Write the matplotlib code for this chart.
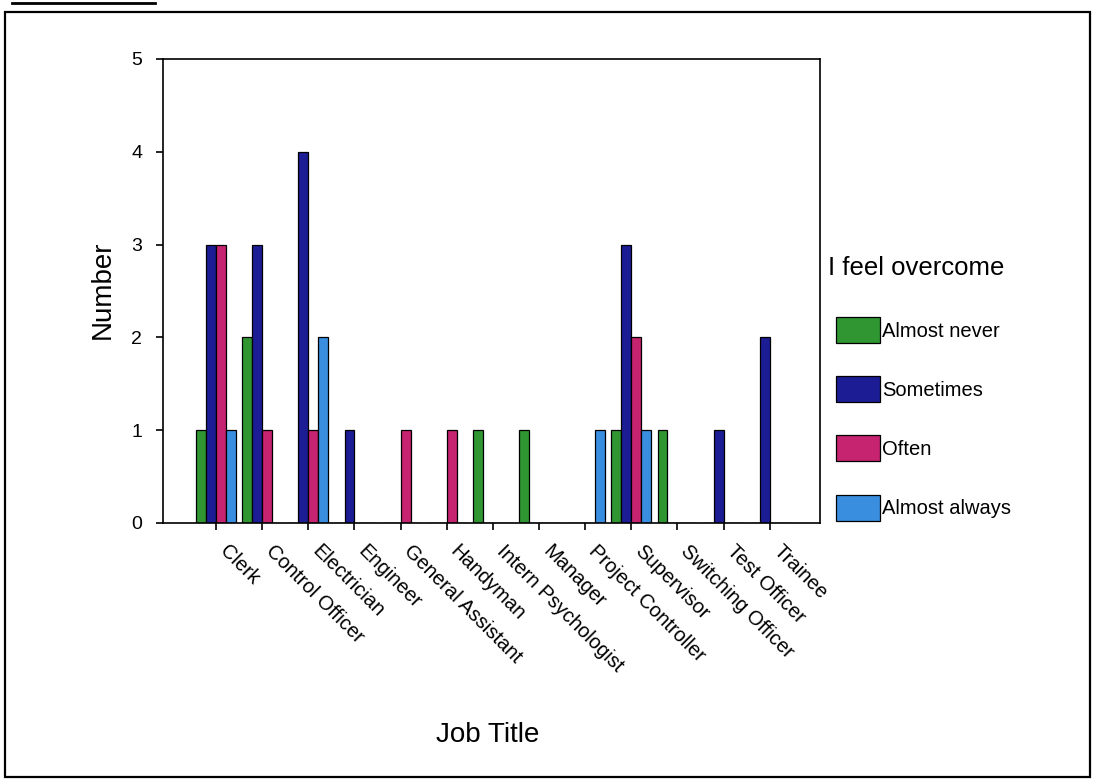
import numpy as np
import matplotlib
matplotlib.use("Agg")
import matplotlib.pyplot as plt
from matplotlib.patches import Rectangle
from matplotlib.lines import Line2D

plt.rcParams["font.family"] = ["Liberation Sans", "DejaVu Sans"]

job_titles = ["Clerk", "Control Officer", "Electrician", "Engineer",
              "General Assistant", "Handyman", "Intern Psychologist",
              "Manager", "Project Controller", "Supervisor",
              "Switching Officer", "Test Officer", "Trainee"]

almost_never = [1, 2, 0, 0, 0, 0, 1, 1, 0, 1, 1, 0, 0]
sometimes = [3, 3, 4, 1, 0, 0, 0, 0, 0, 3, 0, 1, 2]
often = [3, 1, 1, 0, 1, 1, 0, 0, 0, 2, 0, 0, 0]
almost_always = [1, 0, 2, 0, 0, 0, 0, 0, 1, 1, 0, 0, 0]

series_labels = ["Almost never", "Sometimes", "Often", "Almost always"]
series_values = [almost_never, sometimes, often, almost_always]
series_colors = ["#2f9632", "#1c1c94", "#c62370", "#3a8ee0"]

fig = plt.figure(figsize=(10.94, 7.8), dpi=100)
ax = fig.add_axes([0.149, 0.3295, 0.6005, 0.5949])

x = np.arange(len(job_titles))
w = 0.215
handles = []
for i, (vals, col, lab) in enumerate(zip(series_values, series_colors, series_labels)):
    b = ax.bar(x + (i - 1.5) * w, vals, width=w, color=col,
               edgecolor="black", linewidth=0.9, label=lab)
    handles.append(b)

ax.set_xlim(-1.15, 13.09)
ax.set_ylim(0, 5)
ax.set_yticks(range(6))
ax.set_xticks(x)
ax.set_xticklabels(job_titles, rotation=-45, ha="left", va="bottom",
                   rotation_mode="anchor", fontsize=14.5)
ax.tick_params(axis="x", length=5, width=1.2, pad=18, direction="out")
ax.tick_params(axis="y", length=5, width=1.2, pad=10, labelsize=14)
for s in ax.spines.values():
    s.set_linewidth(1.2)

fig.text(0.094, 0.628, "Number", rotation=90, ha="center", va="center",
         fontsize=20)
fig.text(0.446, 0.058, "Job Title", ha="center", va="center", fontsize=20)

fig.text(828 / 1094, 1 - 275 / 780, "I feel overcome", ha="left",
         va="baseline", fontsize=18.5)
leg = ax.legend(handles=handles, labels=series_labels,
                loc="upper left", bbox_to_anchor=(836 / 1094, 1 - 317 / 780),
                bbox_transform=fig.transFigure, frameon=False, fontsize=14.5,
                handlelength=2.19, handleheight=1.61,
                labelspacing=1.65, handletextpad=0.1, borderpad=0,
                borderaxespad=0)

# outer frame and heading rule
fig.add_artist(Rectangle((5 / 1094, 1 - 777 / 780), 1085 / 1094, 765 / 780,
                         transform=fig.transFigure, fill=False,
                         edgecolor="black", linewidth=1.6))
fig.add_artist(Line2D([12 / 1094, 155 / 1094], [1 - 3 / 780, 1 - 3 / 780],
                      transform=fig.transFigure, color="black", linewidth=2))

fig.savefig("out.png", dpi=100)
